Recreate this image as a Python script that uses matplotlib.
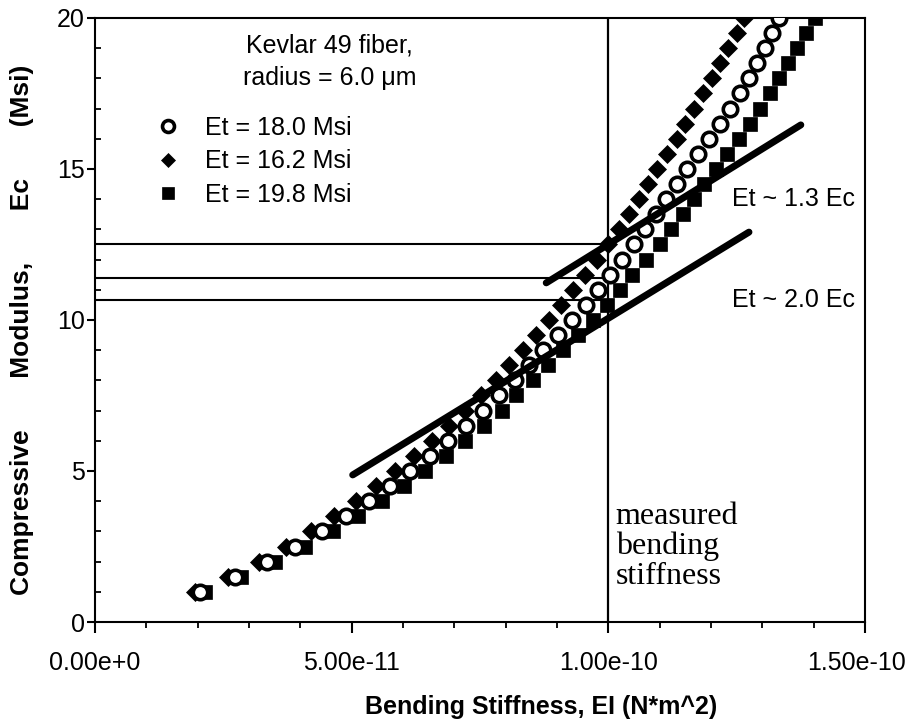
import matplotlib
matplotlib.use("Agg")
import matplotlib.pyplot as plt
from matplotlib.lines import Line2D
from matplotlib.transforms import ScaledTranslation
from matplotlib.ticker import MultipleLocator, FixedLocator, FixedFormatter

plt.rcParams['font.family'] = ['Liberation Sans', 'DejaVu Sans']

# Compressive modulus (Msi) at which each bending stiffness was computed
ec_levels = [1.0, 1.5, 2.0, 2.5, 3.0, 3.5, 4.0, 4.5, 5.0, 5.5, 6.0, 6.5, 7.0,
             7.5, 8.0, 8.5, 9.0, 9.5, 10.0, 10.5, 11.0, 11.5, 12.0, 12.5, 13.0,
             13.5, 14.0, 14.5, 15.0, 15.5, 16.0, 16.5, 17.0, 17.5, 18.0, 18.5,
             19.0, 19.5, 20.0]

# Bending stiffness EI in units of 1e-11 N*m^2, one list per tensile modulus
ei_et180 = [2.04, 2.72, 3.35, 3.90, 4.42, 4.89, 5.33, 5.74, 6.14, 6.52, 6.88,
            7.22, 7.55, 7.87, 8.18, 8.46, 8.73, 9.02, 9.30, 9.56, 9.80, 10.03,
            10.27, 10.50, 10.72, 10.93, 11.13, 11.33, 11.54, 11.75, 11.96,
            12.17, 12.37, 12.56, 12.74, 12.90, 13.05, 13.19, 13.33]
ei_et162 = [1.95, 2.59, 3.19, 3.72, 4.21, 4.66, 5.08, 5.47, 5.85, 6.21, 6.56,
            6.89, 7.21, 7.52, 7.81, 8.07, 8.34, 8.59, 8.84, 9.08, 9.31, 9.54,
            9.77, 10.00, 10.21, 10.41, 10.60, 10.77, 10.95, 11.14, 11.33,
            11.50, 11.67, 11.85, 12.01, 12.17, 12.34, 12.51, 12.65]
ei_et198 = [2.14, 2.85, 3.51, 4.09, 4.64, 5.13, 5.59, 6.02, 6.43, 6.83, 7.21,
            7.57, 7.92, 8.20, 8.53, 8.82, 9.11, 9.41, 9.70, 9.97, 10.22, 10.47,
            10.74, 11.00, 11.23, 11.45, 11.66, 11.87, 12.09, 12.32, 12.54,
            12.75, 12.96, 13.15, 13.33, 13.50, 13.68, 13.86, 14.02]
EI_UNIT = 1e-11

series_labels = ['Et = 18.0 Msi', 'Et = 16.2 Msi', 'Et = 19.8 Msi']

# Asymptotic straight-line guides (EI, Ec end points)
guide_13_ei = [8.79e-11, 13.75e-11]
guide_13_ec = [11.23, 16.46]
guide_20_ei = [5.02e-11, 12.74e-11]
guide_20_ec = [4.87, 12.91]

measured_ei = 1.0e-10
crossing_ec = [12.5, 11.4, 10.65]

x_ticks = [0.0, 5e-11, 1e-10, 1.5e-10]
x_tick_labels = ['0.00e+0', '5.00e-11', '1.00e-10', '1.50e-10']
y_ticks = [0, 5, 10, 15, 20]

W, H = 910, 728
fig = plt.figure(figsize=(W / 100, H / 100), dpi=100)
ax = fig.add_axes([95 / W, (H - 622) / H, 770 / W, 604 / H])

ax.set_xlim(0, 1.5e-10)
ax.set_ylim(0, 20)

# reference lines at the measured stiffness
ax.plot([measured_ei, measured_ei], [0, 20], color='black', lw=1.6, zorder=1)
for ec in crossing_ec:
    ax.plot([0, measured_ei], [ec, ec], color='black', lw=1.5, zorder=1)

ax.plot([v * EI_UNIT for v in ei_et198], ec_levels, linestyle='none',
        marker='s', ms=9.6, mfc='black', mec='black', mew=0.5, zorder=3)
ax.plot([v * EI_UNIT for v in ei_et162], ec_levels, linestyle='none',
        marker='D', ms=9.4, mfc='black', mec='black', mew=0.5, zorder=4)
ax.plot([v * EI_UNIT for v in ei_et180], ec_levels, linestyle='none',
        marker='o', ms=10.4, mfc='white', mec='black', mew=2.6, zorder=5)

ax.plot(guide_13_ei, guide_13_ec, color='black', lw=5.0,
        solid_capstyle='round', zorder=6)
ax.plot(guide_20_ei, guide_20_ec, color='black', lw=5.0,
        solid_capstyle='round', zorder=6)

ax.text(0.305, 0.928, 'Kevlar 49 fiber,\nradius = 6.0 μm', transform=ax.transAxes,
        ha='center', va='center', fontsize=18, linespacing=1.45)
ax.text(1.241e-10, 14.0, 'Et ~ 1.3 Ec', ha='left', va='center', fontsize=18)
ax.text(1.241e-10, 10.67, 'Et ~ 2.0 Ec', ha='left', va='center', fontsize=18)
ax.text(1.014e-10, 2.5, 'measured\nbending\nstiffness', ha='left', va='center',
        fontsize=23, family=['Liberation Serif', 'DejaVu Serif'], linespacing=1.03)

legend_handles = [
    Line2D([], [], linestyle='none', marker='o', ms=8.6, mfc='white',
           mec='black', mew=2.6),
    Line2D([], [], linestyle='none', marker='D', ms=7.4, mfc='black',
           mec='black', mew=0.5),
    Line2D([], [], linestyle='none', marker='s', ms=8.0, mfc='black',
           mec='black', mew=0.5),
]
leg = ax.legend(legend_handles, series_labels, loc='upper left',
                bbox_to_anchor=(60 / 770, 1 - 98 / 604), frameon=False,
                fontsize=18, numpoints=1, handlelength=1.0, handletextpad=1.0,
                labelspacing=0.38, borderpad=0, borderaxespad=0)
leg.set_zorder(7)

ax.xaxis.set_major_locator(FixedLocator(x_ticks))
ax.xaxis.set_major_formatter(FixedFormatter(x_tick_labels))
ax.xaxis.set_minor_locator(MultipleLocator(1e-11))
ax.yaxis.set_major_locator(FixedLocator(y_ticks))
ax.yaxis.set_minor_locator(MultipleLocator(1))

ax.tick_params(axis='x', which='major', direction='out', length=8, width=1.5,
               pad=13, labelsize=18)
ax.tick_params(axis='x', which='minor', direction='out', length=4.5, width=1.3)
ax.tick_params(axis='y', which='major', direction='out', length=6, width=1.5,
               pad=1.5, labelsize=18)
ax.tick_params(axis='y', which='minor', direction='in', length=4, width=1.3)
for s in ax.spines.values():
    s.set_linewidth(1.5)

# keep the last x tick label inside the figure
last = ax.get_xticklabels()[-1]
last.set_transform(last.get_transform() + ScaledTranslation(-9 / 100, 0, fig.dpi_scale_trans))

fig.text(541 / W, 1 - 707 / H, 'Bending Stiffness, EI (N*m^2)', ha='center',
         va='center', fontsize=18, fontweight='bold')
fig.text(22 / W, 1 - 330 / H, 'Compressive       Modulus,       Ec       (Msi)',
         ha='center', va='center', rotation=90, fontsize=19, fontweight='bold')

fig.savefig('out.png', dpi=100)
